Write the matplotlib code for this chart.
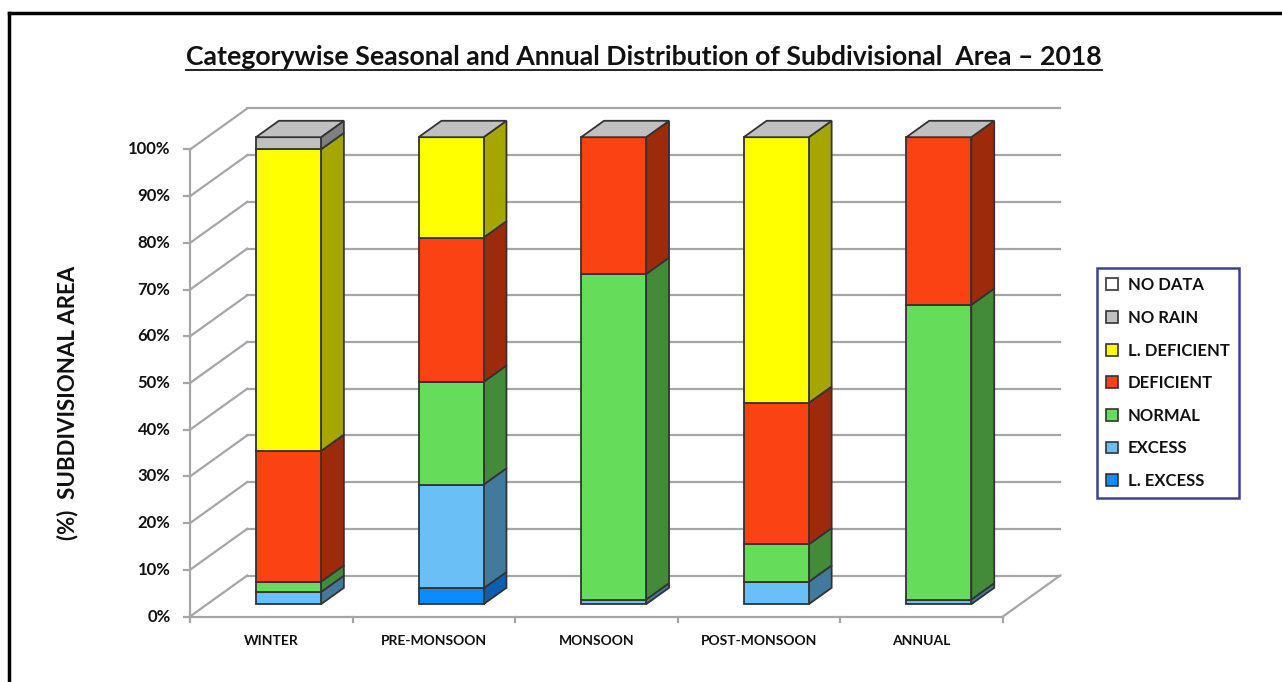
import matplotlib
matplotlib.use('Agg')
import matplotlib.pyplot as plt
from matplotlib.patches import Polygon, Patch
from matplotlib.lines import Line2D

plt.rcParams['font.family'] = ['Lato', 'DejaVu Sans']

# data (% of subdivisional area)
seasons = ['WINTER', 'PRE-MONSOON', 'MONSOON', 'POST-MONSOON', 'ANNUAL']
categories = ['L. EXCESS', 'EXCESS', 'NORMAL', 'DEFICIENT', 'L. DEFICIENT', 'NO RAIN', 'NO DATA']
l_excess = [0.0, 3.4, 0.0, 0.0, 0.0]
excess = [2.6, 22.2, 1.0, 4.8, 1.0]
normal = [2.2, 22.0, 69.7, 8.0, 63.1]
deficient = [28.0, 30.9, 29.3, 30.3, 35.9]
l_deficient = [64.6, 21.5, 0.0, 56.9, 0.0]
no_rain = [2.6, 0.0, 0.0, 0.0, 0.0]
no_data = [0.0, 0.0, 0.0, 0.0, 0.0]
series = [l_excess, excess, normal, deficient, l_deficient, no_rain, no_data]

front_colors = ['#0a8cff', '#6bbff7', '#66dd5a', '#fa4212', '#ffff00', '#c0c0c0', '#ffffff']
side_colors = ['#0a60ae', '#427a9e', '#438b38', '#9c2a0b', '#a6a600', '#808080', '#bfbfbf']
top_color = '#c0c0c0'
edge = '#333333'
grid_c = '#a6a6a6'
txt_c = '#111111'

# fake 3d: depth shift of the back wall (category units, percent units)
DX, DY = 0.352, 8.78
D0, D1 = 0.3, 0.7
half = 0.2


def proj(x, y, d):
    return (x + d * DX, y + d * DY)


fig = plt.figure(figsize=(12.82, 6.82), dpi=100)
ax = fig.add_axes([150 / 1282, 42 / 682, 930 / 1282, 550 / 682])
ax.set_xlim(-0.746, 4.974)
ax.set_ylim(-5.03, 112.74)
ax.axis('off')

n = len(seasons)
x_left, x_right = -0.5, n - 0.5

# walls and floor
for p in range(0, 101, 10):
    bl = proj(x_left, p, 1)
    br = proj(x_right, p, 1)
    ax.plot([bl[0], br[0]], [bl[1], br[1]], color=grid_c, lw=1.6, zorder=1)
    ax.plot([x_left, bl[0]], [p, bl[1]], color=grid_c, lw=1.6, zorder=1)
    ax.plot([x_left - 0.035, x_left], [p, p], color=grid_c, lw=1.6, zorder=1)
    ax.text(x_left - 0.12, p, f'{p}%', ha='right', va='center',
            fontsize=12, fontweight='bold', color=txt_c)
ax.plot([x_left, x_left], [0, 100], color=grid_c, lw=1.6, zorder=1)
ax.plot([x_left, x_right], [0, 0], color=grid_c, lw=1.6, zorder=1)
fr = proj(x_right, 0, 1)
ax.plot([x_right, fr[0]], [0, fr[1]], color=grid_c, lw=1.6, zorder=1)
for k in range(n + 1):
    ax.plot([x_left + k, x_left + k], [0, -1.2], color=grid_c, lw=1.6, zorder=1)

for i, s in enumerate(seasons):
    ax.text(i, -5.3, s, ha='center', va='center', fontsize=10, fontweight='bold', color=txt_c)

# stacked 3d bars
for i in range(n):
    x0, x1 = i - half, i + half
    cum = 0.0
    for j, vals in enumerate(series):
        v = vals[i]
        if v <= 0:
            continue
        y0, y1 = cum, cum + v
        front = [proj(x0, y0, D0), proj(x1, y0, D0), proj(x1, y1, D0), proj(x0, y1, D0)]
        side = [proj(x1, y0, D0), proj(x1, y0, D1), proj(x1, y1, D1), proj(x1, y1, D0)]
        ax.add_patch(Polygon(side, closed=True, fc=side_colors[j], ec=edge, lw=1.3, zorder=3))
        ax.add_patch(Polygon(front, closed=True, fc=front_colors[j], ec=edge, lw=1.3, zorder=3))
        cum = y1
    top = [proj(x0, cum, D0), proj(x1, cum, D0), proj(x1, cum, D1), proj(x0, cum, D1)]
    ax.add_patch(Polygon(top, closed=True, fc=top_color, ec=edge, lw=1.3, zorder=3))

# y label
fig.text(68 / 1282, 1 - 403 / 682, '(%)  SUBDIVISIONAL AREA', rotation=90, ha='center', va='center',
         fontsize=16, fontweight='bold', color=txt_c)

# title with underline
title = fig.text(644 / 1282, 1 - 57 / 682,
                 'Categorywise Seasonal and Annual Distribution of Subdivisional  Area \u2013 2018',
                 ha='center', va='center', fontsize=16, fontweight='bold', color=txt_c)
fig.canvas.draw()
bb = title.get_window_extent()
title.set_fontsize(16 * 920 / bb.width)
fig.canvas.draw()
bb = title.get_window_extent()
uy = bb.y0 - 1
fig.add_artist(Line2D([bb.x0 / 1282, bb.x1 / 1282], [uy / 682, uy / 682], color=txt_c, lw=1.3))

# legend (top entry first)
handles = [Patch(facecolor=front_colors[j], edgecolor=edge, lw=1.2, label=categories[j])
           for j in range(len(categories) - 1, -1, -1)]
leg = fig.legend(handles=handles, loc='upper left', bbox_to_anchor=(1097 / 1282, 1 - 268 / 682),
                 frameon=True, fancybox=False, fontsize=12, handlelength=0.7, handleheight=0.7,
                 handletextpad=0.6, labelspacing=1.0, borderpad=0.55, borderaxespad=0)
leg.get_frame().set_edgecolor('#0f0f80')
leg.get_frame().set_linewidth(1.8)
for t in leg.get_texts():
    t.set_fontweight('bold')
    t.set_color(txt_c)

# outer frame (top and left edges)
fig.add_artist(Line2D([8.5 / 1282, 1], [1 - 13 / 682, 1 - 13 / 682], color='black', lw=2.5))
fig.add_artist(Line2D([8.5 / 1282, 8.5 / 1282], [0, 1 - 13 / 682], color='black', lw=2.5))

fig.savefig('out.png', dpi=100)
